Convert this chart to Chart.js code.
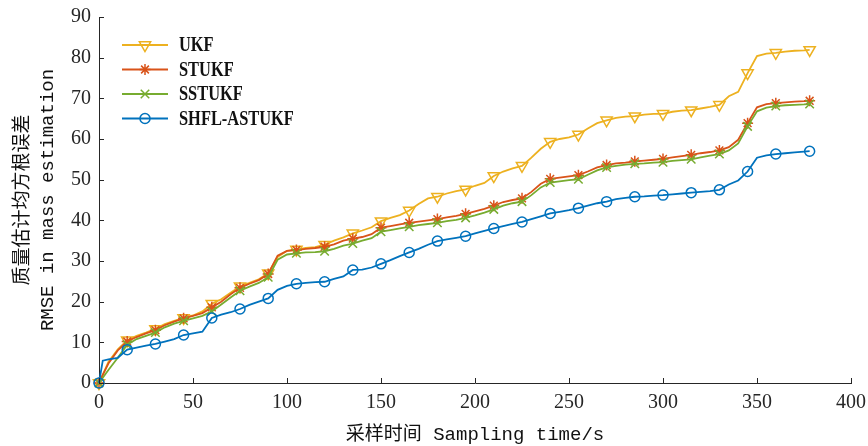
<!DOCTYPE html>
<html>
<head>
<meta charset="utf-8">
<script src="https://cdn.jsdelivr.net/npm/chart.js@4.4.1/dist/chart.umd.min.js"></script>
<style>
  html, body { margin: 0; padding: 0; background: #fff; }
  #wrap { width: 868px; height: 446px; position: relative; }
</style>
</head>
<body>
<div id="wrap"><canvas id="chart"></canvas></div>
<script>
// sampling time (s)
const time = [
  0, 2, 5, 10, 15, 20, 25, 30, 35, 40,
  45, 50, 55, 60, 65, 70, 75, 80, 85, 90,
  95, 100, 105, 110, 115, 120, 125, 130, 135, 140,
  145, 150, 155, 160, 165, 170, 175, 180, 185, 190,
  195, 200, 205, 210, 215, 220, 225, 230, 235, 240,
  245, 250, 255, 260, 265, 270, 275, 280, 285, 290,
  295, 300, 305, 310, 315, 320, 325, 330, 335, 340,
  345, 350, 355, 360, 365, 370, 375, 378
];

const ukf = [
  0, 2.0, 5.2, 8.3, 10.5, 11.6, 12.4, 13.3, 14.5, 15.3,
  16.0, 16.6, 17.6, 19.5, 20.6, 22.2, 23.8, 24.6, 25.5, 27.0,
  31.0, 32.5, 32.8, 33.2, 33.4, 34.0, 35.0, 35.8, 36.8, 37.5,
  38.3, 39.8, 40.6, 41.3, 42.4, 44.0, 45.4, 45.8, 46.6, 47.2,
  47.6, 48.5, 49.2, 50.9, 52.0, 52.8, 53.4, 55.4, 57.6, 59.3,
  60.0, 60.4, 61.1, 62.6, 63.9, 64.6, 65.2, 65.5, 65.6, 66.0,
  66.2, 66.2, 66.7, 67.0, 67.1, 67.5, 67.9, 68.4, 70.5, 71.6,
  76.2, 80.4, 81.0, 81.2, 81.5, 81.7, 81.8, 81.9
];

const stukf = [
  0, 2.0, 4.8, 8.0, 10.2, 11.3, 12.2, 13.0, 14.2, 15.1,
  15.9, 16.5, 17.2, 18.6, 20.0, 21.8, 23.4, 24.4, 25.3, 26.8,
  31.3, 32.5, 32.7, 33.0, 33.2, 33.5, 34.1, 35.0, 35.5, 35.9,
  36.6, 38.2, 38.6, 39.0, 39.4, 39.7, 40.0, 40.3, 40.7, 41.1,
  41.6, 42.2, 42.8, 43.6, 44.5, 45.0, 45.4, 47.0, 49.0, 50.2,
  50.5, 50.8, 51.1, 52.0, 53.0, 53.6, 54.0, 54.2, 54.5, 54.7,
  54.9, 55.1, 55.5, 55.8, 56.1, 56.5, 56.8, 57.2, 58.0, 59.8,
  63.9, 67.8, 68.6, 68.8, 69.0, 69.2, 69.3, 69.4
];

const sstukf = [
  0, 1.3, 3.2, 6.2, 9.4, 10.8, 11.6, 12.4, 13.7, 14.6,
  15.3, 15.9, 16.5, 17.6, 19.3, 21.0, 22.7, 23.7, 24.6, 26.0,
  30.3, 31.6, 31.9, 32.1, 32.2, 32.4, 33.0, 33.8, 34.3, 35.0,
  35.6, 37.2, 37.6, 38.0, 38.4, 38.8, 39.1, 39.4, 39.8, 40.1,
  40.6, 41.2, 41.9, 42.7, 43.6, 44.2, 44.6, 46.2, 48.1, 49.3,
  49.6, 49.9, 50.1, 51.2, 52.3, 53.0, 53.4, 53.7, 53.9, 54.0,
  54.2, 54.3, 54.6, 54.8, 55.0, 55.5, 55.9, 56.3, 57.2, 58.9,
  63.1, 66.8, 67.7, 68.1, 68.3, 68.4, 68.5, 68.6
];

const shfl = [
  0, 5.5, 5.8, 6.2, 8.2, 8.7, 9.2, 9.6, 10.2, 10.8,
  11.8, 12.2, 12.6, 16.0, 16.8, 17.4, 18.2, 19.2, 20.0, 20.8,
  22.9, 23.9, 24.4, 24.6, 24.8, 24.9, 25.6, 26.2, 27.8, 27.9,
  28.4, 29.3, 30.2, 31.2, 32.1, 33.0, 34.0, 34.9, 35.3, 35.7,
  36.1, 36.8, 37.4, 38.0, 38.6, 39.1, 39.6, 40.3, 41.0, 41.7,
  42.1, 42.5, 43.0, 43.6, 44.2, 44.6, 45.2, 45.5, 45.8, 45.9,
  46.1, 46.2, 46.4, 46.6, 46.8, 47.0, 47.2, 47.5, 48.8, 49.8,
  52.0, 55.4, 56.0, 56.3, 56.5, 56.7, 56.9, 57.0
];

const seriesNames = ['UKF', 'STUKF', 'SSTUKF', 'SHFL-ASTUKF'];

const axisColor = '#262626';
const tickFont = { family: "'Liberation Serif', serif", size: 20 };
const titleFont = { family: "'Liberation Mono', 'Noto Sans CJK SC', monospace", size: 19, lineHeight: 1.3 };

// markers every 15 s up to 360 s, plus the last sample
function isMarker(i) {
  return (time[i] % 15 === 0 && time[i] <= 360) || i === time.length - 1;
}

function makeSet(label, values, color, style, r, rot, order) {
  return {
    label: label,
    data: time.map((t, i) => ({ x: t, y: values[i] })),
    borderColor: color,
    backgroundColor: color,
    borderWidth: 1.8,
    tension: 0,
    pointStyle: style,
    pointRotation: rot,
    pointRadius: ctx => isMarker(ctx.dataIndex) ? r : 0,
    pointBorderWidth: 1.5,
    pointBorderColor: color,
    pointBackgroundColor: 'rgba(0,0,0,0)',
    legendRadius: r,
    clip: false,
    order: order
  };
}

// MATLAB style ticks pointing into the plot
const inwardTicks = {
  id: 'inwardTicks',
  afterDraw(chart) {
    const ctx = chart.ctx;
    const xs = chart.scales.x, ys = chart.scales.y;
    const area = chart.chartArea;
    ctx.save();
    ctx.strokeStyle = axisColor;
    ctx.lineWidth = 1;
    ctx.beginPath();
    xs.ticks.forEach(t => {
      const px = Math.round(xs.getPixelForValue(t.value)) + 0.5;
      ctx.moveTo(px, area.bottom);
      ctx.lineTo(px, area.bottom - 5);
    });
    ys.ticks.forEach(t => {
      const py = Math.round(ys.getPixelForValue(t.value)) + 0.5;
      ctx.moveTo(area.left, py);
      ctx.lineTo(area.left + 5, py);
    });
    ctx.stroke();
    ctx.restore();
  }
};

// legend with a line and marker in each row
const lineLegend = {
  id: 'lineLegend',
  afterDraw(chart) {
    const ctx = chart.ctx;
    const x0 = chart.chartArea.left + 23;
    chart.data.datasets.forEach((ds, i) => {
      const y = 45 + i * 24.5;
      ctx.save();
      ctx.strokeStyle = ds.borderColor;
      ctx.lineWidth = 1.8;
      ctx.beginPath();
      ctx.moveTo(x0, y);
      ctx.lineTo(x0 + 46, y);
      ctx.stroke();
      ctx.lineWidth = 1.5;
      ctx.fillStyle = 'rgba(0,0,0,0)';
      Chart.helpers.drawPoint(ctx, {
        pointStyle: ds.pointStyle,
        radius: ds.legendRadius,
        rotation: ds.pointRotation || 0,
        borderWidth: 1.5
      }, x0 + 23, y);
      ctx.restore();

      ctx.save();
      ctx.fillStyle = '#111';
      ctx.font = "bold 20px 'Liberation Serif', serif";
      ctx.textBaseline = 'middle';
      ctx.translate(x0 + 57, y + 1);
      ctx.scale(0.82, 1);
      ctx.fillText(ds.label, 0, 0);
      ctx.restore();
    });
  }
};

new Chart(document.getElementById('chart'), {
  type: 'line',
  data: {
    datasets: [
      makeSet(seriesNames[0], ukf, '#EDB120', 'triangle', 6.5, 180, 4),
      makeSet(seriesNames[1], stukf, '#D95319', 'star', 5.5, 0, 3),
      makeSet(seriesNames[2], sstukf, '#77AC30', 'crossRot', 6, 0, 2),
      makeSet(seriesNames[3], shfl, '#0072BD', 'circle', 5, 0, 1)
    ]
  },
  options: {
    responsive: true,
    maintainAspectRatio: false,
    animation: false,
    layout: { padding: { top: 17, right: 17, left: 0, bottom: 0 } },
    plugins: {
      legend: { display: false },
      tooltip: { enabled: false }
    },
    scales: {
      x: {
        type: 'linear',
        min: 0,
        max: 400,
        afterFit: s => { s.height = 63; s.paddingRight = 0; s.paddingLeft = 0; },
        ticks: { stepSize: 50, font: tickFont, color: axisColor, padding: 8, maxRotation: 0, autoSkip: false },
        grid: { drawOnChartArea: false, drawTicks: false },
        border: { color: axisColor, width: 1 },
        title: {
          display: true,
          text: '采样时间 Sampling time/s',
          font: { family: titleFont.family, size: 19, lineHeight: 1.2 },
          color: '#111',
          padding: { top: 0, bottom: 0 }
        }
      },
      y: {
        min: 0,
        max: 90,
        afterFit: s => { s.width = 99; s.paddingTop = 0; s.paddingBottom = 0; },
        ticks: { stepSize: 10, font: tickFont, color: axisColor, padding: 8 },
        grid: { drawOnChartArea: false, drawTicks: false },
        border: { color: axisColor, width: 1 },
        title: {
          display: true,
          text: ['质量估计均方根误差', 'RMSE in mass estimation'],
          font: titleFont,
          color: '#111',
          padding: { top: 10.5, bottom: 0 }
        }
      }
    }
  },
  plugins: [inwardTicks, lineLegend]
});
</script>
</body>
</html>
